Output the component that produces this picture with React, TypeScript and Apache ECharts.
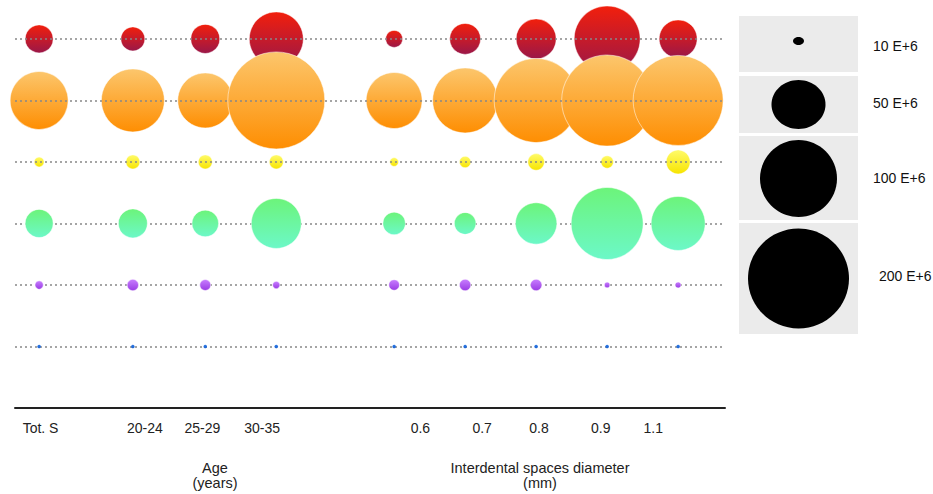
import React, { useEffect, useRef } from "react";
import * as echarts from "echarts";

// Category labels (x axis) and their axis positions
const categories = ["Tot. S", "20-24", "25-29", "30-35", "0.6", "0.7", "0.8", "0.9", "1.1"];
const categoryPos = [0, 1.32, 2.34, 3.34, 5.0, 6.0, 7.0, 8.0, 9.0];
const labelPos = [0.02, 1.49, 2.3, 3.14, 5.37, 6.24, 7.04, 7.91, 8.65];

// Values (E+6) per row, one entry per category
const redValues = [13.6, 10.0, 14.6, 50.5, 5.0, 16.6, 27.7, 75.4, 25.0];
const orangeValues = [58.2, 68.7, 52.4, 162.9, 54.3, 73.1, 122.2, 143.4, 140.2];
const yellowValues = [1.7, 3.4, 3.4, 3.4, 1.3, 2.25, 4.8, 2.7, 10.0];
const greenValues = [13.6, 14.6, 12.3, 43.3, 8.8, 8.1, 29.7, 89.8, 50.5];
const purpleValues = [1.2, 2.3, 2.1, 0.95, 1.95, 2.25, 2.25, 0.55, 0.62];
const blueValues = [0.22, 0.22, 0.22, 0.22, 0.22, 0.22, 0.22, 0.22, 0.22];

const legendLabels = ["10 E+6", "50 E+6", "100 E+6", "200 E+6"];
const axisTitles = ["Age\n(years)", "Interdental spaces diameter\n(mm)"];

const rows = [
  { values: redValues, top: "#f21f0c", bottom: "#9a1748" },
  { values: orangeValues, top: "#fcc66c", bottom: "#fe8e02" },
  { values: yellowValues, top: "#fffb6a", bottom: "#f7e400" },
  { values: greenValues, top: "#6cf47a", bottom: "#6cf8c8" },
  { values: purpleValues, top: "#c87eff", bottom: "#9a3ce4" },
  { values: blueValues, top: "#2f7ae6", bottom: "#1a62d0" },
];

export default function App() {
  const ref = useRef<HTMLDivElement>(null);
  useEffect(() => {
    if (!ref.current) return;
    const chart = echarts.init(ref.current, undefined, { renderer: "svg" });
    const font = "'Liberation Sans', Arial, sans-serif";

    const series: any[] = [
      {
        type: "scatter",
        data: [],
        silent: true,
        z: 1,
        markLine: {
          silent: true,
          symbol: ["none", "none"],
          label: { show: false },
          animation: false,
          lineStyle: { color: "#888", width: 1.5, type: [2, 3] },
          emphasis: { disabled: true },
          data: rows.map((_, r) => ({ yAxis: r })),
        },
      },
    ];
    rows.forEach((row, r) => {
      series.push({
        type: "scatter",
        data: row.values.map((v, i) => [categoryPos[i], r, v]),
        symbolSize: (d: number[]) => 7.6 * Math.sqrt(d[2]),
        itemStyle: {
          opacity: 1,
          color: new echarts.graphic.LinearGradient(0, 0, 0, 1, [
            { offset: 0, color: row.top },
            { offset: 1, color: row.bottom },
          ]),
          borderColor: "rgba(255,255,255,0.5)",
          borderWidth: r === 5 ? 0 : 1,
        },
        emphasis: { disabled: true },
        z: 2 + r,
      });
    });

    const legendRects = [
      { y: 16, h: 56 },
      { y: 76, h: 57 },
      { y: 136, h: 84 },
      { y: 223, h: 111 },
    ];
    const legendCircles = [
      { cy: 41, rx: 5.5, ry: 4 },
      { cy: 104.5, rx: 27, ry: 24.5 },
      { cy: 178.5, rx: 38.5, ry: 38.5 },
      { cy: 278.5, rx: 50.5, ry: 50 },
    ];
    const legendTextY = [46, 103, 178, 276];
    const legendTextX = [873, 873, 873, 879];

    const graphic: any[] = [];
    legendRects.forEach((rc) => {
      graphic.push({
        type: "rect",
        shape: { x: 739, y: rc.y, width: 119, height: rc.h },
        style: { fill: "#ebebeb" },
        silent: true,
      });
    });
    legendCircles.forEach((c) => {
      graphic.push({
        type: "ellipse",
        shape: { cx: 798.5, cy: c.cy, rx: c.rx, ry: c.ry },
        style: { fill: "#000" },
        silent: true,
      });
    });
    legendLabels.forEach((t, i) => {
      graphic.push({
        type: "text",
        x: legendTextX[i],
        y: legendTextY[i],
        style: {
          text: t,
          fill: "#111",
          font: `14px ${font}`,
          textAlign: "left",
          textVerticalAlign: "middle",
        },
        silent: true,
      });
    });
    const titleX = [215, 540];
    axisTitles.forEach((t, i) => {
      graphic.push({
        type: "text",
        x: titleX[i],
        y: 460,
        style: {
          text: t,
          fill: "#222",
          font: `14.5px ${font}`,
          lineHeight: 15,
          textAlign: "center",
          textVerticalAlign: "top",
          align: "center",
        },
        silent: true,
      });
    });

    chart.setOption({
      animation: false,
      backgroundColor: "#fff",
      grid: { left: 15, right: 208, top: 2, bottom: 86, containLabel: false },
      xAxis: {
        type: "value",
        min: -0.34,
        max: 9.66,
        axisLine: { show: true, onZero: false, lineStyle: { color: "#222", width: 2 } },
        axisTick: { show: false },
        splitLine: { show: false },
        axisLabel: {
          customValues: labelPos,
          formatter: (v: number) => {
            let best = 0;
            let bd = Infinity;
            labelPos.forEach((p, i) => {
              const d = Math.abs(p - v);
              if (d < bd) {
                bd = d;
                best = i;
              }
            });
            return categories[best];
          },
          color: "#222",
          fontSize: 14,
          fontFamily: font,
          margin: 13,
        },
      },
      yAxis: {
        type: "value",
        inverse: true,
        min: -0.6,
        max: 6,
        axisLine: { show: false },
        axisTick: { show: false },
        axisLabel: { show: false },
        splitLine: { show: false },
      },
      series,
      graphic,
    });
    return () => chart.dispose();
  }, []);
  return (
    <div
      ref={ref}
      style={{ position: "fixed", left: 0, top: 0, width: 933, height: 494 }}
    />
  );
}
